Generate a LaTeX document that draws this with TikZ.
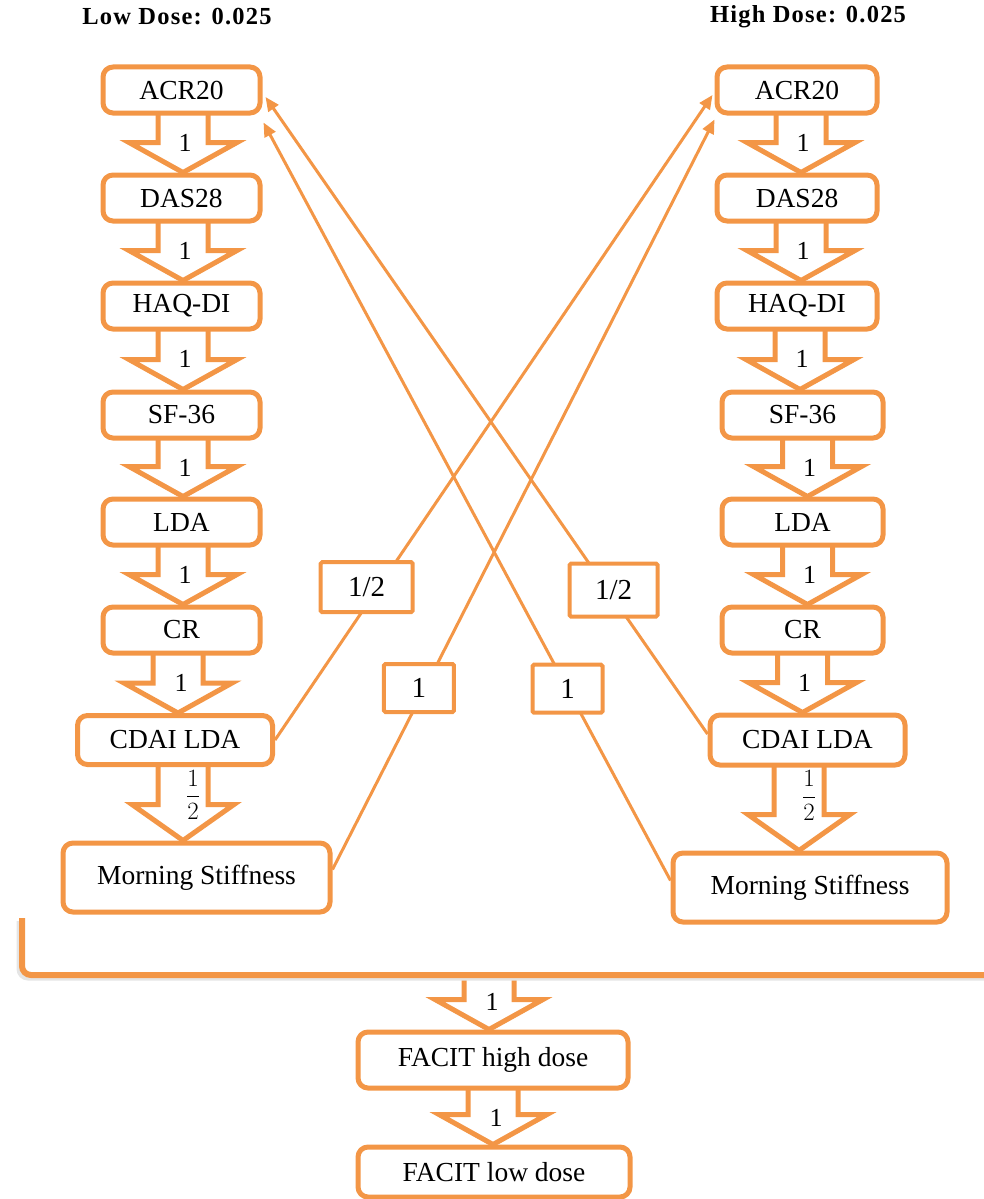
\documentclass[tikz,border=0pt]{standalone}
\usepackage{fontspec}
\setmainfont{Liberation Serif}
\usepackage{amsmath}
\usetikzlibrary{arrows.meta,calc}
\definecolor{org}{RGB}{243,150,70}
\pgfdeclarelayer{bg}
\pgfsetlayers{bg,main}
\tikzset{
 box/.style={draw=org, line width=5pt, rounded corners=10pt, fill=white, minimum width=157pt, minimum height=46pt, inner sep=0pt, font=\fontsize{27.5}{30}\selectfont},
 lblbox/.style={draw=org, line width=4pt, fill=white, rounded corners=1.5pt, minimum height=50pt, inner sep=0pt, font=\fontsize{29}{30}\selectfont},
 xline/.style={draw=org, line width=3pt, -{Triangle[length=14pt,width=12pt]}},
 blk/.style={draw=org, line width=5pt, fill=white, line join=miter},
 blklbl/.style={font=\fontsize{26}{28}\selectfont},
 fraclbl/.style={font=\fontsize{27}{28}\selectfont},
 ttl/.style={font=\bfseries\fontsize{24.5}{26}\selectfont\addfontfeatures{LetterSpace=5}},
}
% #1 x offset, #2 from, #3 to, #4 label, #5 label xshift
\newcommand\blockarrow[5][0]{%
 \begin{pgfonlayer}{bg}
 \path[blk] let \p1=($(#2.south)+(#1,0)$), \p2=(#3.north) in
   (\x1-25pt,\y1+2pt) -- (\x1-25pt,\y2+30pt) -- (\x1-54pt,\y2+30pt) -- (\x1,\y2) -- (\x1+54pt,\y2+30pt) -- (\x1+25pt,\y2+30pt) -- (\x1+25pt,\y1+2pt)
   (\x1+#5,\y1-27pt) node[blklbl]{#4};
 \end{pgfonlayer}}
\newcommand\fracarrow[4][0]{%
 \begin{pgfonlayer}{bg}
 \path[blk] let \p1=($(#2.south)+(#1,0)$), \p2=(#3.north) in
   (\x1-25pt,\y1+2pt) -- (\x1-25pt,\y2+36pt) -- (\x1-51pt,\y2+36pt) -- (\x1,\y2) -- (\x1+51pt,\y2+36pt) -- (\x1+25pt,\y2+36pt) -- (\x1+25pt,\y1+2pt)
   (\x1+#4,\y1-28pt) node[fraclbl]{$\dfrac{1}{2}$};
 \end{pgfonlayer}}
\begin{document}
\begin{tikzpicture}[x=1pt,y=-1pt]
\useasboundingbox (0,0) rectangle (984,1199);

\node[ttl] (tL) at (177,17) {Low Dose: 0.025};
\node[ttl] (tR) at (808,17) {High Dose: 0.025};

% left column
\node[box] (acrL) at (181.5,90) {ACR20};
\node[box] (dasL) at (181.5,198) {DAS28};
\node[box] (haqL) at (181.5,306) {HAQ-DI};
\node[box] (sfL) at (181.5,415) {SF-36};
\node[box] (ldaL) at (181.5,522) {LDA};
\node[box] (crL) at (181.5,630) {CR};
\node[box, minimum width=195pt, minimum height=49pt] (cdaiL) at (175,740) {CDAI LDA};
\node[box, minimum width=267pt, minimum height=69pt] (mornL) at (196.5,877.5) {Morning Stiffness};

% right column
\node[box, minimum width=160pt] (acrR) at (797,90) {ACR20};
\node[box, minimum width=160pt] (dasR) at (797,198) {DAS28};
\node[box, minimum width=160pt] (haqR) at (797,306) {HAQ-DI};
\node[box, minimum width=161pt] (sfR) at (802.5,415) {SF-36};
\node[box, minimum width=161pt] (ldaR) at (802.5,522) {LDA};
\node[box, minimum width=161pt] (crR) at (802.5,630) {CR};
\node[box, minimum width=195pt, minimum height=50pt] (cdaiR) at (807.5,740) {CDAI LDA};
\node[box, minimum width=274pt, minimum height=69pt] (mornR) at (810,887.5) {Morning Stiffness};

% bottom
\node[box, minimum width=270pt, minimum height=56pt] (facH) at (493,1060) {FACIT high dose};
\node[box, minimum width=272pt, minimum height=50pt] (facL) at (494,1172) {FACIT low dose};

% block arrows left
\blockarrow[1.5]{acrL}{dasL}{1}{2pt}
\blockarrow[1.5]{dasL}{haqL}{1}{2pt}
\blockarrow[1.5]{haqL}{sfL}{1}{2pt}
\blockarrow[1.5]{sfL}{ldaL}{1}{2pt}
\blockarrow[1.5]{ldaL}{crL}{1}{2pt}
\blockarrow[-3.5]{crL}{cdaiL}{1}{3pt}
\fracarrow[8]{cdaiL}{mornL}{10pt}

% block arrows right
\blockarrow[4]{acrR}{dasR}{1}{2pt}
\blockarrow[4]{dasR}{haqR}{1}{2pt}
\blockarrow[3]{haqR}{sfR}{1}{2pt}
\blockarrow[5]{sfR}{ldaR}{1}{2pt}
\blockarrow[5]{ldaR}{crR}{1}{2pt}
\blockarrow[0]{crR}{cdaiR}{1}{2pt}
\fracarrow[-8.5]{cdaiR}{mornR}{10pt}

% bracket
\coordinate (brk) at (489,975);
\draw[line width=5pt, black!10, rounded corners=9pt] (19,921) -- (19,978) -- (984,978);
\draw[draw=org, line width=6pt, rounded corners=9pt] (22,918) -- (22,975) -- (984,975);
\blockarrow[0]{brk}{facH}{1}{3pt}
\blockarrow[0]{facH}{facL}{1}{3pt}

% crossing connectors
\draw[xline] (cdaiL.east) -- node[lblbox, minimum width=92pt, pos=0.237, xshift=-12pt] {1/2} ($(acrR.west)+(-2,5)$);
\draw[xline] ($(mornL.east)+(0,-8)$) -- node[lblbox, minimum width=70pt, minimum height=48pt, pos=0.242, xshift=-6pt] {1} ($(acrR.south west)+(0,4)$);
\draw[xline] ($(cdaiR.west)+(0,-6)$) -- node[lblbox, minimum width=88pt, minimum height=53pt, pos=0.226, xshift=6pt] {1/2} ($(acrL.east)+(3,7)$);
\draw[xline] ($(mornR.west)+(0,-7)$) -- node[lblbox, minimum width=70pt, minimum height=48pt, pos=0.253] {1} ($(acrL.south east)+(1,7)$);
\end{tikzpicture}
\end{document}
